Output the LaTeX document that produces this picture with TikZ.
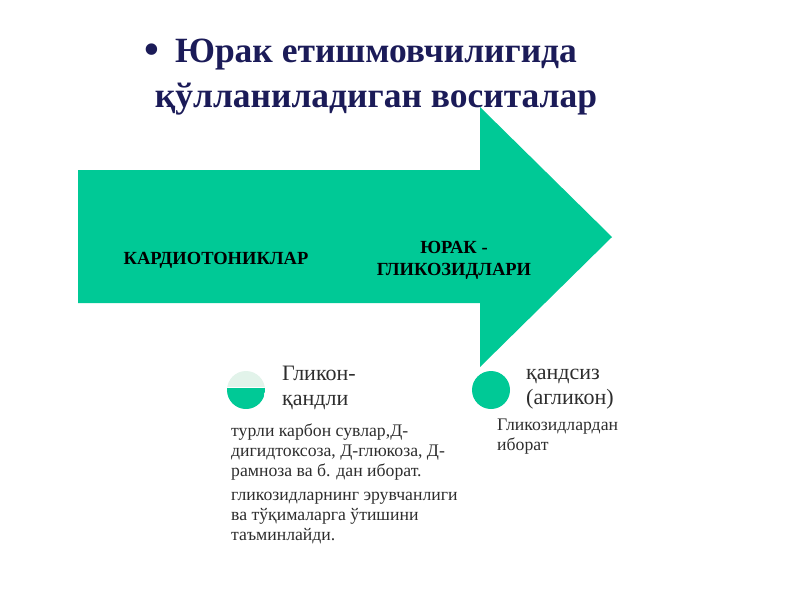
\documentclass[tikz,border=0pt]{standalone}
\usepackage{fontspec}
\setmainfont{Liberation Serif}
\usetikzlibrary{positioning}
\definecolor{arrowgreen}{RGB}{0,201,150}
\definecolor{titleblue}{RGB}{27,27,88}
\definecolor{palegreen}{RGB}{226,243,234}
\definecolor{bodygrey}{RGB}{45,45,45}

\begin{document}
\begin{tikzpicture}[x=1pt,y=-1pt,
  arrowlabel/.style={font=\bfseries\fontsize{18.5}{22}\selectfont, align=center, inner sep=0pt},
  subhead/.style={font=\fontsize{22}{25}\selectfont, text=bodygrey, align=left, anchor=north west, inner sep=0pt},
  bodytext/.style={font=\fontsize{17.7}{20}\selectfont, text=bodygrey, align=left, anchor=north west, inner sep=0pt},
  dot/.style={circle, minimum size=38pt, inner sep=0pt}]
\useasboundingbox (0,0) rectangle (800,600);
% big arrow
\fill[arrowgreen] (78,170) -- (480,170) -- (480,107) -- (612,237) -- (480,367) -- (480,303) -- (78,303) -- cycle;
\node[arrowlabel] (cardio) at (216,260) {КАРДИОТОНИКЛАР};
\node[arrowlabel] (glyco) at (454,260) {ЮРАК -\\ГЛИКОЗИДЛАРИ};
% title
\node[font=\bfseries\fontsize{35.5}{45}\selectfont, text=titleblue, align=center, inner sep=0pt] (title) at (376,77) {Юрак етишмовчилигида\\қўлланиладиган воситалар};
\node[font=\fontsize{48}{48}\selectfont, text=titleblue, inner sep=0pt] (bullet) at (152,55) {•};
% glycon
\node[dot, fill=palegreen, path picture={
  \fill[arrowgreen] ([yshift=2pt]path picture bounding box.west) rectangle (path picture bounding box.south east);
  \draw[white, line width=1.2pt] ([yshift=2.5pt]path picture bounding box.west) -- ([yshift=2.5pt]path picture bounding box.east);
}] (glycon) at (246,390) {};
\node[subhead] (glyconhead) at (282,366) {Гликон-\\қандли};
\node[bodytext] (glyconsugar) at (231,423.5) {турли карбон сувлар,Д-\\дигидтоксоза, Д-глюкоза, Д-\\рамноза ва б. дан иборат.};
\node[bodytext] (glyconrole) at (231,491.5) {гликозидларнинг эрувчанлиги\\ва тўқималарга ўтишини\\таъминлайди.};
% aglycon
\node[dot, fill=arrowgreen] (aglycon) at (491,390) {};
\node[subhead] (aglyconhead) at (526,369) {қандсиз\\(агликон)};
\node[bodytext] (aglyconbody) at (497,419) {Гликозидлардан\\иборат};
\end{tikzpicture}
\end{document}
